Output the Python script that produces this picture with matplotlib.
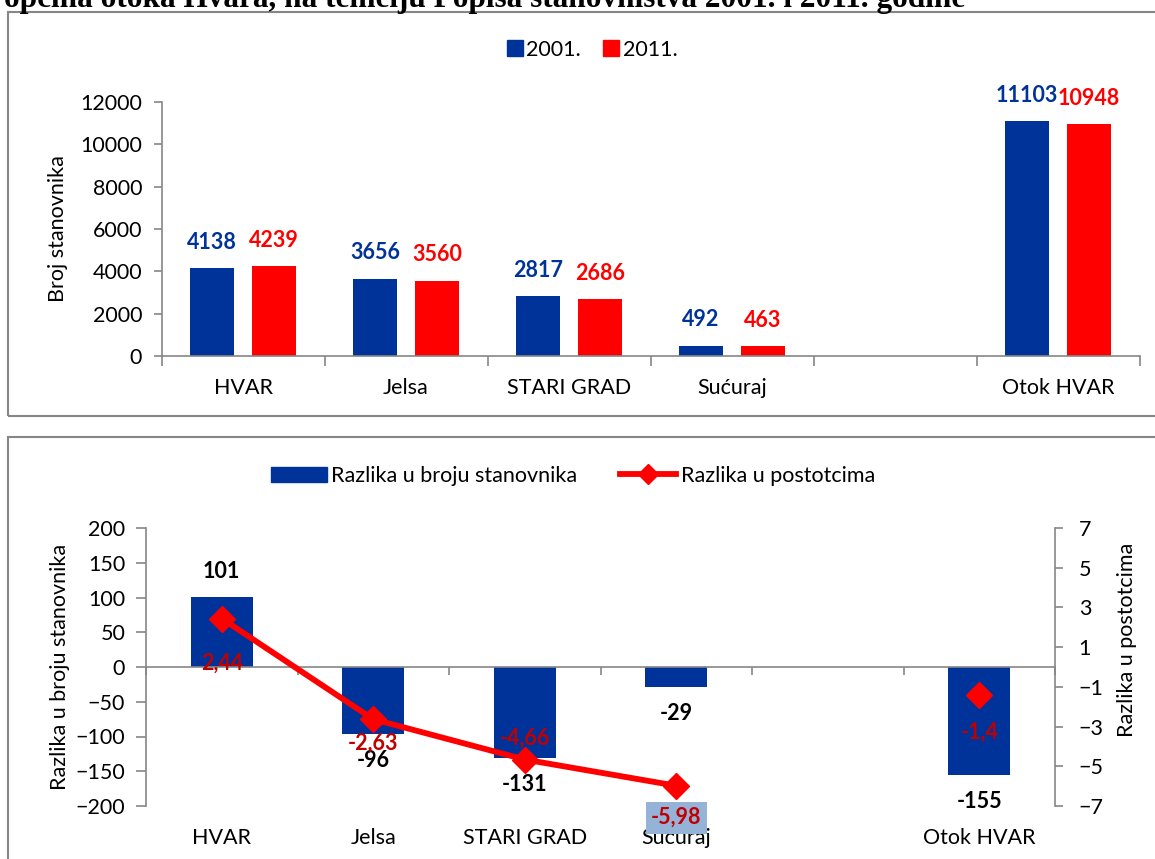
import matplotlib
matplotlib.use('Agg')
import matplotlib.pyplot as plt
import numpy as np
from matplotlib.lines import Line2D
from matplotlib.patches import Patch, Rectangle
from matplotlib.transforms import blended_transform_factory

plt.rcParams['font.family'] = ['Lato', 'DejaVu Sans']

# data
categories = ['HVAR', 'Jelsa', 'STARI GRAD', 'Sućuraj', '', 'Otok HVAR']
pop_2001 = [4138, 3656, 2817, 492, np.nan, 11103]
pop_2011 = [4239, 3560, 2686, 463, np.nan, 10948]
diff_abs = [101, -96, -131, -29, np.nan, -155]
diff_pct = [2.44, -2.63, -4.66, -5.98, np.nan, -1.4]
pct_labels = ['2,44', '-2,63', '-4,66', '-5,98', '', '-1,4']

BLUE = '#003399'
RED = '#FF0000'
DARKRED = '#C00000'
GRAY = '#868686'
FS = 15.5

W, H = 1155, 859
fig = plt.figure(figsize=(W / 100, H / 100), dpi=100)


def fx(px):
    return px / W


def fy(py):
    return 1 - py / H


# title, cut off by the top of the image
fig.text(fx(4), fy(7), 'općina otoka Hvara, na temelju Popisa stanovništva 2001. i 2011. godine',
         family='Liberation Serif', weight='bold', fontsize=22.5, va='baseline', ha='left')

# panel frames
fig.add_artist(Rectangle((fx(8), fy(416)), 1, fy(12) - fy(416), transform=fig.transFigure,
                         fill=False, edgecolor=GRAY, lw=1.5))
fig.add_artist(Rectangle((fx(8), -0.1), 1, fy(437) + 0.1, transform=fig.transFigure,
                         fill=False, edgecolor=GRAY, lw=1.5))

x = np.arange(len(categories))

# ---- top chart
ax1 = fig.add_axes([fx(161.5), fy(356), fx(1139.5) - fx(161.5), fy(102) - fy(356)])
w = 0.27
ax1.bar(x - 0.19, pop_2001, w, color=BLUE)
ax1.bar(x + 0.19, pop_2011, w, color=RED)
for i in range(len(x)):
    if np.isnan(pop_2001[i]):
        continue
    ax1.annotate(str(pop_2001[i]), (x[i] - 0.19, pop_2001[i]), xytext=(0, 11),
                 textcoords='offset points', ha='center', va='bottom',
                 color=BLUE, fontsize=FS, weight='bold')
    ax1.annotate(str(pop_2011[i]), (x[i] + 0.19, pop_2011[i]), xytext=(0, 11),
                 textcoords='offset points', ha='center', va='bottom',
                 color=RED, fontsize=FS, weight='bold')
ax1.set_xlim(-0.5, len(x) - 0.5)
ax1.set_ylim(0, 12000)
ax1.set_yticks(np.arange(0, 12001, 2000))
ax1.set_xticks(np.arange(-0.5, len(x)))
ax1.set_xticklabels([])
ax1.tick_params(axis='x', length=7, color=GRAY, width=1.2)
ax1.tick_params(axis='y', length=6, color=GRAY, width=1.2, labelsize=FS, pad=8)
for s in ['top', 'right']:
    ax1.spines[s].set_visible(False)
for s in ['left', 'bottom']:
    ax1.spines[s].set_color(GRAY)
    ax1.spines[s].set_linewidth(1.2)
tr1 = blended_transform_factory(ax1.transData, fig.transFigure)
for i, c in enumerate(categories):
    ax1.text(x[i], fy(388), c, transform=tr1, ha='center', va='center', fontsize=FS)
fig.text(fx(58), fy(229), 'Broj stanovnika', rotation=90, ha='center', va='center', fontsize=FS)
ax1.legend([Line2D([], [], marker='s', ls='none', color=BLUE, markersize=11),
            Line2D([], [], marker='s', ls='none', color=RED, markersize=11)],
           ['2001.', '2011.'], loc='center', bbox_to_anchor=(fx(592), fy(50)),
           bbox_transform=fig.transFigure, ncol=2, frameon=False, fontsize=FS,
           handletextpad=0.15, columnspacing=1.0, handlelength=0.8)

# ---- bottom chart
ax2 = fig.add_axes([fx(146), fy(806), fx(1055) - fx(146), fy(528) - fy(806)])
ax2.bar(x, diff_abs, 0.41, color=BLUE)
ax2.set_xlim(-0.5, len(x) - 0.5)
ax2.set_ylim(-200, 200)
ax2.set_yticks(np.arange(-200, 201, 50))
ax2.spines['bottom'].set_position(('data', 0))
ax2.set_xticks(np.arange(-0.5, len(x)))
ax2.set_xticklabels([])
ax2.tick_params(axis='x', length=6, color=GRAY, width=1.2)
ax2.tick_params(axis='y', length=7, color=GRAY, width=1.2, labelsize=FS, pad=8)
for s in ['top', 'right']:
    ax2.spines[s].set_visible(False)
for s in ['left', 'bottom']:
    ax2.spines[s].set_color(GRAY)
    ax2.spines[s].set_linewidth(1.2)
for i, v in enumerate(diff_abs):
    if np.isnan(v):
        continue
    off = 18 if v > 0 else -19
    ax2.annotate(str(int(v)), (x[i], v), xytext=(0, off), textcoords='offset points',
                 ha='center', va='center', fontsize=FS, weight='bold')
tr2 = blended_transform_factory(ax2.transData, fig.transFigure)
for i, c in enumerate(categories):
    ax2.text(x[i], fy(838), c, transform=tr2, ha='center', va='center', fontsize=FS)
fig.text(fx(60), fy(667), 'Razlika u broju stanovnika', rotation=90, ha='center', va='center',
         fontsize=FS)

ax3 = ax2.twinx()
ax3.set_position(ax2.get_position())
ax3.plot(x, diff_pct, color=RED, lw=4.2, marker='D', markersize=13, zorder=3)
ax3.set_ylim(-7, 7)
ax3.set_yticks(np.arange(-7, 8, 2))
ax3.tick_params(axis='y', length=6, color=GRAY, width=1.2, labelsize=FS, pad=11)
for s in ['top', 'left', 'bottom']:
    ax3.spines[s].set_visible(False)
ax3.spines['right'].set_color(GRAY)
ax3.spines['right'].set_linewidth(1.2)
fig.text(fx(1127), fy(640), 'Razlika u postotcima', rotation=90, ha='center', va='center',
         fontsize=FS)

pct_offsets = [-32, -17, 15, -23, 0, -27]
for i, v in enumerate(diff_pct):
    if np.isnan(v):
        continue
    bbox = None
    if i == 3:
        bbox = dict(boxstyle='square,pad=0.25', fc='#95B3D7', ec='none')
    ax3.annotate(pct_labels[i], (x[i], v), xytext=(0, pct_offsets[i]), textcoords='offset points',
                 ha='center', va='center', fontsize=FS, weight='bold', color=DARKRED,
                 bbox=bbox, zorder=4)

ax2.legend([Patch(color=BLUE), Line2D([], [], color=RED, lw=4.2, marker='D', markersize=10)],
           ['Razlika u broju stanovnika', 'Razlika u postotcima'], loc='center',
           bbox_to_anchor=(fx(573), fy(476)), bbox_transform=fig.transFigure, ncol=2,
           frameon=False, fontsize=FS, handletextpad=0.2, columnspacing=2.0,
           handlelength=2.6, handleheight=0.7)

fig.savefig('out.png', dpi=100)
